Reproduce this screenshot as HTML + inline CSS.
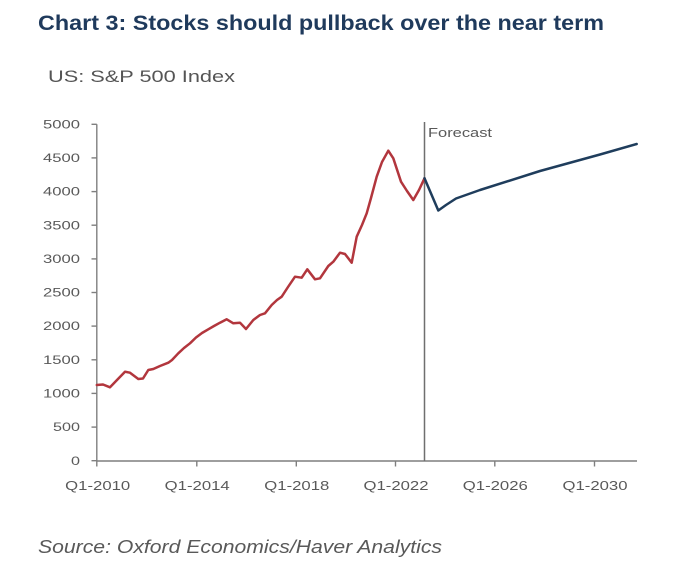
<!DOCTYPE html>
<html>
<head>
<meta charset="utf-8">
<style>
  html, body { margin: 0; padding: 0; background: #ffffff; }
  body { width: 700px; height: 567px; overflow: hidden; }
  svg { display: block; }
</style>
</head>
<body>
<svg width="700" height="567" viewBox="0 0 700 567" xmlns="http://www.w3.org/2000/svg">
  <rect width="700" height="567" fill="#ffffff"/>

  <!-- Title -->
  <text x="38" y="30" font-family="Liberation Sans, sans-serif" font-size="21" font-weight="bold" fill="#1f3a5c" textLength="566" lengthAdjust="spacingAndGlyphs">Chart 3: Stocks should pullback over the near term</text>
  <!-- Subtitle -->
  <text x="48" y="82" font-family="Liberation Sans, sans-serif" font-size="17" fill="#555555" textLength="187" lengthAdjust="spacingAndGlyphs">US: S&amp;P 500 Index</text>

  <!-- Y axis labels -->
  <g font-family="Liberation Sans, sans-serif" font-size="12" fill="#595959" text-anchor="end">
    <text x="80" y="128.5" textLength="37" lengthAdjust="spacingAndGlyphs">5000</text>
    <text x="80" y="162" textLength="37" lengthAdjust="spacingAndGlyphs">4500</text>
    <text x="80" y="195.7" textLength="37" lengthAdjust="spacingAndGlyphs">4000</text>
    <text x="80" y="229.3" textLength="37" lengthAdjust="spacingAndGlyphs">3500</text>
    <text x="80" y="263" textLength="37" lengthAdjust="spacingAndGlyphs">3000</text>
    <text x="80" y="296.6" textLength="37" lengthAdjust="spacingAndGlyphs">2500</text>
    <text x="80" y="330.2" textLength="37" lengthAdjust="spacingAndGlyphs">2000</text>
    <text x="80" y="363.9" textLength="37" lengthAdjust="spacingAndGlyphs">1500</text>
    <text x="80" y="397.5" textLength="37" lengthAdjust="spacingAndGlyphs">1000</text>
    <text x="80" y="431.2" textLength="27" lengthAdjust="spacingAndGlyphs">500</text>
    <text x="80" y="464.8" textLength="9" lengthAdjust="spacingAndGlyphs">0</text>
  </g>

  <!-- Axes -->
  <g stroke="#7f7f7f" stroke-width="1.4" fill="none">
    <line x1="96.8" y1="124.3" x2="96.8" y2="461"/>
    <line x1="96.8" y1="461" x2="637" y2="461"/>
    <!-- y ticks -->
    <line x1="91.5" y1="124.3" x2="96.8" y2="124.3"/>
    <line x1="91.5" y1="157.9" x2="96.8" y2="157.9"/>
    <line x1="91.5" y1="191.6" x2="96.8" y2="191.6"/>
    <line x1="91.5" y1="225.2" x2="96.8" y2="225.2"/>
    <line x1="91.5" y1="258.9" x2="96.8" y2="258.9"/>
    <line x1="91.5" y1="292.5" x2="96.8" y2="292.5"/>
    <line x1="91.5" y1="326.1" x2="96.8" y2="326.1"/>
    <line x1="91.5" y1="359.8" x2="96.8" y2="359.8"/>
    <line x1="91.5" y1="393.4" x2="96.8" y2="393.4"/>
    <line x1="91.5" y1="427.1" x2="96.8" y2="427.1"/>
    <line x1="91.5" y1="460.7" x2="96.8" y2="460.7"/>
    <!-- x ticks -->
    <line x1="96.8" y1="461" x2="96.8" y2="466.5"/>
    <line x1="196.8" y1="461" x2="196.8" y2="466.5"/>
    <line x1="296.3" y1="461" x2="296.3" y2="466.5"/>
    <line x1="395.5" y1="461" x2="395.5" y2="466.5"/>
    <line x1="494.8" y1="461" x2="494.8" y2="466.5"/>
    <line x1="594.5" y1="461" x2="594.5" y2="466.5"/>
  </g>

  <!-- X axis labels -->
  <g font-family="Liberation Sans, sans-serif" font-size="13" fill="#595959" text-anchor="middle">
    <text x="97.7" y="490" textLength="65" lengthAdjust="spacingAndGlyphs">Q1-2010</text>
    <text x="197.2" y="490" textLength="65" lengthAdjust="spacingAndGlyphs">Q1-2014</text>
    <text x="296.8" y="490" textLength="65" lengthAdjust="spacingAndGlyphs">Q1-2018</text>
    <text x="396" y="490" textLength="65" lengthAdjust="spacingAndGlyphs">Q1-2022</text>
    <text x="495.3" y="490" textLength="65" lengthAdjust="spacingAndGlyphs">Q1-2026</text>
    <text x="595" y="490" textLength="65" lengthAdjust="spacingAndGlyphs">Q1-2030</text>
  </g>

  <!-- Forecast divider -->
  <line x1="424.5" y1="122" x2="424.5" y2="461" stroke="#6f6f6f" stroke-width="1.5"/>
  <text x="428" y="137" font-family="Liberation Sans, sans-serif" font-size="12.5" fill="#595959" textLength="64" lengthAdjust="spacingAndGlyphs">Forecast</text>

  <!-- Historical (red) -->
  <polyline fill="none" stroke="#b2363d" stroke-width="2.5" stroke-linejoin="round" stroke-linecap="round"
    points="96.8,385 103,384.5 110,387.3 117,380 125,371.7 130,372.7 138.3,379 143,378.5 148.3,370 153.3,369 160,366 168.3,362.7 172,360 178.3,353.3 184,348 190,343.3 196,337.5 202,333 208.3,329.3 214,326 220,322.7 226.7,319.3 233.3,323.3 240,322.7 246,329 253.3,320 260,315 265,313.3 271.7,305 277,300 281.7,296.7 288,287 295,276.7 301.7,277.7 307.3,269.3 315,279.3 320,278.3 328.3,266 333.3,261.7 340,252.7 345,254 351.7,262.7 356.7,236.7 362,225 366.7,213.3 371,198 376.7,176.7 382,162 388.3,150.7 393.3,158.3 401,181.7 407,191 413.3,200 419,190 424.5,178.3"/>

  <!-- Forecast (blue) -->
  <polyline fill="none" stroke="#1f3d5c" stroke-width="2.5" stroke-linejoin="round" stroke-linecap="round"
    points="424.5,178.3 438.3,210.5 446,205 456,198.5 480,190 540,171 600,154.5 636.7,144"/>

  <!-- Source -->
  <text x="38" y="553" font-family="Liberation Sans, sans-serif" font-size="18" font-style="italic" fill="#595959" textLength="404" lengthAdjust="spacingAndGlyphs">Source: Oxford Economics/Haver Analytics</text>
</svg>
</body>
</html>
